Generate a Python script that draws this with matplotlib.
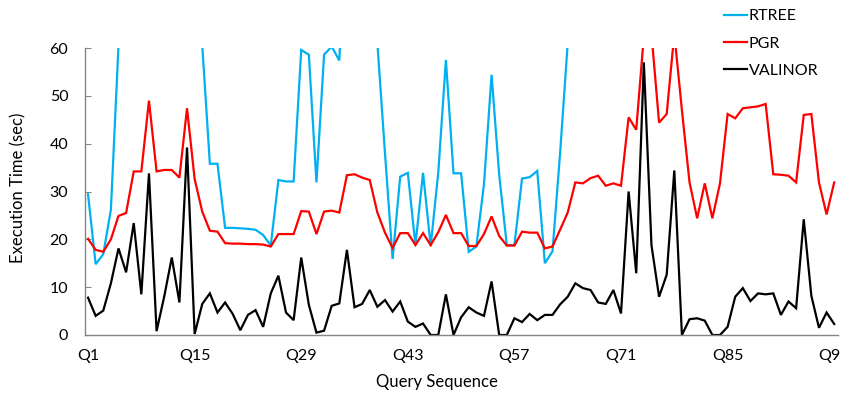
import numpy as np
import matplotlib
matplotlib.use("Agg")
import matplotlib.pyplot as plt

plt.rcParams["font.family"] = ["Lato", "DejaVu Sans"]
plt.rcParams["font.size"] = 11

# -----------------------------
# Execution times per query (sec); values above 60 run off the chart
# -----------------------------
queries = np.arange(1, 100)
tick_queries = [1, 15, 29, 43, 57, 71, 85, 99]
tick_labels = ["Q%d" % q for q in tick_queries]

rtree = [29.4, 14.8, 16.9, 26.2, 60.5, 95.0, 110.0, 120.0, 125.0, 115.0,
         105.0, 112.0, 120.0, 100.0, 88.0, 60.5, 35.8, 35.8, 22.4, 22.4,
         22.3, 22.2, 22.0, 20.9, 18.7, 32.4, 32.1, 32.1, 59.6, 58.6,
         31.9, 58.6, 60.3, 57.4, 90.0, 105.0, 98.0, 85.0, 61.0, 38.0,
         15.9, 33.1, 33.9, 18.8, 33.9, 18.6, 34.0, 57.5, 33.8, 33.8,
         17.4, 18.5, 31.5, 54.4, 33.5, 18.8, 18.8, 32.7, 33.0, 34.3,
         15.0, 17.5, 38.0, 61.0, 85.0, 95.0, 100.0, 105.0, 98.0, 110.0,
         120.0, 130.0, 140.0, 150.0, 135.0, 120.0, 125.0, 140.0, 110.0, 100.0,
         95.0, 100.0, 90.0, 95.0, 115.0, 120.0, 118.0, 122.0, 125.0, 128.0,
         105.0, 100.0, 98.0, 96.0, 115.0, 118.0, 100.0, 90.0, 95.0]

pgr = [20.1, 17.8, 17.4, 20.0, 24.9, 25.5, 34.2, 34.2, 49.0, 34.2,
       34.5, 34.5, 32.9, 47.4, 32.6, 25.8, 21.8, 21.6, 19.2, 19.1,
       19.1, 19.0, 19.0, 18.9, 18.5, 21.1, 21.1, 21.1, 25.9, 25.8,
       21.1, 25.8, 26.0, 25.6, 33.4, 33.6, 32.9, 32.4, 25.6, 21.4,
       18.2, 21.3, 21.3, 18.8, 21.3, 18.8, 21.5, 25.1, 21.3, 21.3,
       18.6, 18.6, 21.1, 24.8, 20.7, 18.7, 18.7, 21.6, 21.4, 21.4,
       18.1, 18.5, 22.0, 25.6, 31.9, 31.7, 32.8, 33.3, 31.2, 31.7,
       31.2, 45.5, 42.9, 62.5, 63.0, 44.4, 46.2, 63.0, 47.0, 31.9,
       24.4, 31.7, 24.4, 31.7, 46.2, 45.3, 47.4, 47.6, 47.8, 48.3,
       33.6, 33.5, 33.3, 31.9, 46.0, 46.2, 31.9, 25.2, 31.9]

valinor = [7.8, 4.0, 5.1, 10.8, 18.1, 13.1, 23.4, 8.5, 33.8, 0.8,
           8.0, 16.2, 6.8, 39.2, 0.2, 6.5, 8.7, 4.7, 6.8, 4.4,
           1.0, 4.2, 5.2, 1.7, 8.7, 12.4, 4.7, 3.1, 16.2, 6.3,
           0.5, 0.9, 6.1, 6.6, 17.8, 5.8, 6.5, 9.4, 5.9, 7.3,
           4.9, 7.0, 2.8, 1.7, 2.4, 0.0, 0.0, 8.5, 0.0, 3.7,
           5.8, 4.7, 4.0, 11.2, 0.0, 0.0, 3.5, 2.7, 4.4, 3.1,
           4.2, 4.2, 6.4, 8.0, 10.8, 9.8, 9.4, 6.8, 6.5, 9.4,
           4.5, 30.0, 12.9, 57.0, 18.8, 8.0, 12.6, 34.4, 0.0, 3.3,
           3.5, 3.0, 0.0, 0.0, 1.7, 8.0, 9.8, 7.1, 8.7, 8.5,
           8.7, 4.2, 7.0, 5.6, 24.2, 8.2, 1.5, 4.7, 2.3]

series_colors = {"RTREE": "#00B0F0", "PGR": "#FF0000", "VALINOR": "#000000"}

# -----------------------------
# Plot
# -----------------------------
fig = plt.figure(figsize=(8.41, 3.94), dpi=100)
ax = fig.add_axes([85 / 841, 1 - 335 / 394, 753 / 841, 287 / 394])

for name, vals in [("RTREE", rtree), ("PGR", pgr), ("VALINOR", valinor)]:
    ax.plot(queries, vals, color=series_colors[name], linewidth=1.6,
            solid_joinstyle="miter", label=name)

ax.set_ylim(0, 60)
ax.set_xlim(0.6, 99.5)
ax.set_yticks(np.arange(0, 61, 10))
ax.set_xticks(tick_queries)
ax.set_xticklabels(tick_labels)

for side in ["top", "right"]:
    ax.spines[side].set_visible(False)
for side in ["left", "bottom"]:
    ax.spines[side].set_color("#868686")
    ax.spines[side].set_linewidth(1.0)

ax.tick_params(axis="x", length=0, pad=10, labelsize=11.5)
ax.tick_params(axis="y", direction="in", length=4, color="#868686",
               pad=12, labelsize=11.5)

fig.text(18 / 841, 1 - 188 / 394, "Execution Time (sec)", rotation=90,
         ha="center", va="center", fontsize=12)
fig.text(437 / 841, 1 - 382 / 394, "Query Sequence",
         ha="center", va="center", fontsize=12)

ax.legend(loc="upper left", bbox_to_anchor=(721 / 841, 1 - 6 / 394),
          bbox_transform=fig.transFigure, frameon=False, fontsize=11.5,
          handlelength=1.4, handletextpad=0.15, labelspacing=0.82,
          borderpad=0.2, borderaxespad=0)

fig.savefig("out.png", dpi=100)
